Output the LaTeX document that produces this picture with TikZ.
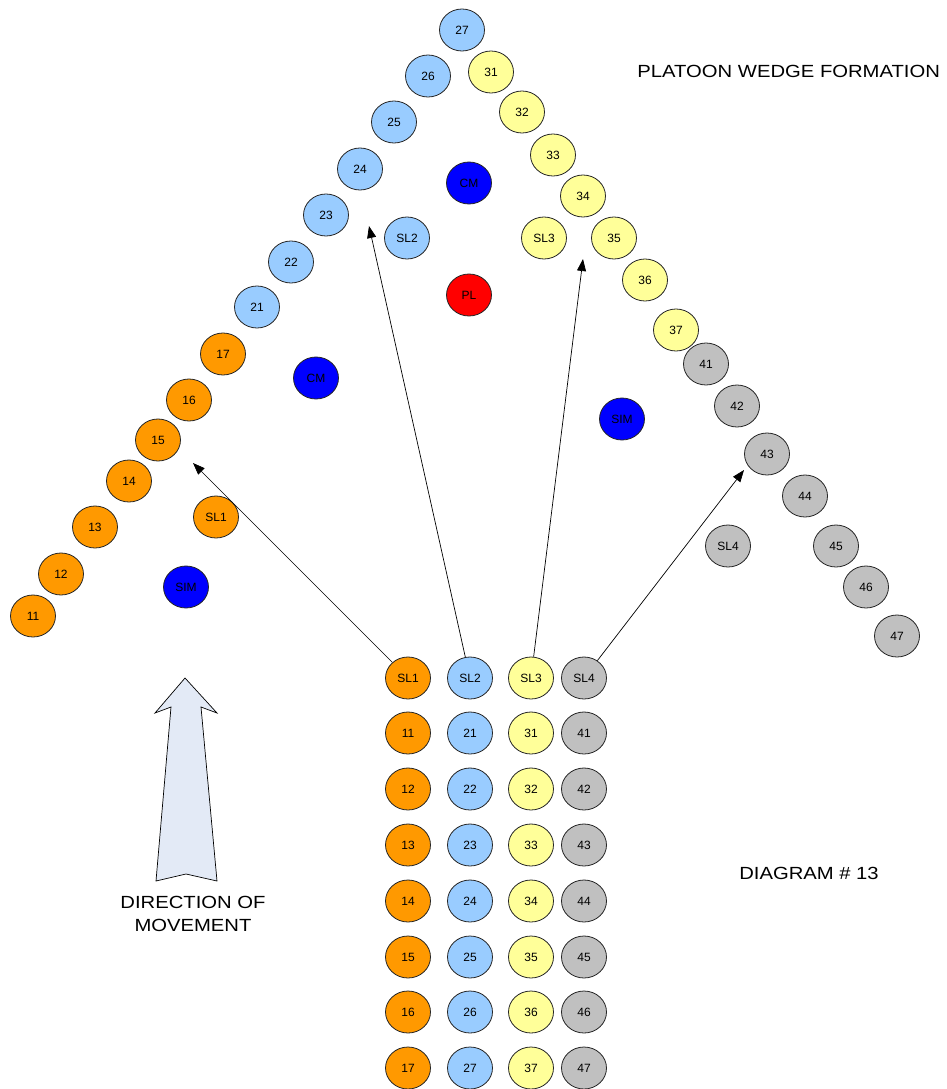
\documentclass[tikz,border=0pt]{standalone}
\usepackage{fontspec}
\setmainfont{Liberation Sans}
\usetikzlibrary{arrows.meta,shapes.geometric}
\definecolor{cOr}{HTML}{FF9900}
\definecolor{cBl}{HTML}{99CCFF}
\definecolor{cYe}{HTML}{FFFF99}
\definecolor{cGr}{HTML}{C0C0C0}
\definecolor{cBu}{HTML}{0000FF}
\definecolor{cRe}{HTML}{FF0000}
\definecolor{cArr}{HTML}{E3EAF6}
\tikzset{
  man/.style={ellipse, draw=black!85, line width=0.8pt, minimum width=45pt, minimum height=42pt, inner sep=0pt, font=\fontsize{12}{14}\selectfont},
  orn/.style={man, fill=cOr},
  blu/.style={man, fill=cBl},
  yel/.style={man, fill=cYe},
  gry/.style={man, fill=cGr},
  dbl/.style={man, fill=cBu},
  red/.style={man, fill=cRe},
  mv/.style={draw=black, line width=0.7pt, -{Triangle[length=12pt,width=9pt]}},
  big/.style={font=\fontsize{17.6}{23}\selectfont, align=center, xscale=1.15, transform shape}
}
\begin{document}
\begin{tikzpicture}[x=1pt,y=-1pt]
\useasboundingbox (0,0) rectangle (946,1089);
% wedge
\node[blu] (w27) at (462,30) {27};
\node[blu] (w26) at (428,76) {26};
\node[blu] (w25) at (394,122) {25};
\node[blu] (w24) at (360,169) {24};
\node[blu] (w23) at (326,215) {23};
\node[blu] (w22) at (291,262) {22};
\node[blu] (w21) at (257,307) {21};
\node[orn] (w17) at (223,354) {17};
\node[orn] (w16) at (189,400) {16};
\node[orn] (w15) at (158,440) {15};
\node[orn] (w14) at (129,481) {14};
\node[orn] (w13) at (95,527) {13};
\node[orn] (w12) at (61,574) {12};
\node[orn] (w11) at (33,616) {11};
\node[yel] (w31) at (491,72) {31};
\node[yel] (w32) at (522,112) {32};
\node[yel] (w33) at (553,155) {33};
\node[yel] (w34) at (583,196) {34};
\node[yel] (w35) at (614,238) {35};
\node[yel] (w36) at (645,280) {36};
\node[yel] (w37) at (676,330) {37};
\node[gry] (w41) at (706,364) {41};
\node[gry] (w42) at (737,406) {42};
\node[gry] (w43) at (767,454) {43};
\node[gry] (w44) at (805,496) {44};
\node[gry] (w45) at (836,546) {45};
\node[gry] (w46) at (866,587) {46};
\node[gry] (w47) at (897,636) {47};
\node[dbl] (cm1) at (469,183) {CM};
\node[blu] (wsl2) at (407,238) {SL2};
\node[yel] (wsl3) at (544,238) {SL3};
\node[red] (pl) at (469,295) {PL};
\node[dbl] (cm2) at (316,378) {CM};
\node[dbl] (sim2) at (622,419) {SIM};
\node[orn] (wsl1) at (216,517) {SL1};
\node[dbl] (sim1) at (186,587) {SIM};
\node[gry] (wsl4) at (728,546) {SL4};
% columns
\node[orn] (csl1) at (408,678) {SL1};
\node[blu] (csl2) at (470,678) {SL2};
\node[yel] (csl3) at (531,678) {SL3};
\node[gry] (csl4) at (584,678) {SL4};
\foreach \i/\y in {1/733,2/789,3/845,4/901,5/957,6/1012,7/1068}{
  \node[orn] (c1\i) at (408,\y) {1\i};
  \node[blu] (c2\i) at (470,\y) {2\i};
  \node[yel] (c3\i) at (531,\y) {3\i};
  \node[gry] (c4\i) at (584,\y) {4\i};
}
% movement arrows
\coordinate (e1) at (193,463);
\coordinate (e2) at (369,226);
\coordinate (e3) at (583,259);
\coordinate (e4) at (744,470);
\draw[mv] (csl1) -- (e1);
\draw[mv] (csl2) -- (e2);
\draw[mv] (csl3) -- (e3);
\draw[mv] (csl4) -- (e4);
% direction arrow
\draw[fill=cArr, line width=0.7pt, line join=miter] (185,678) -- (217,713) -- (201,707) -- (217,881) -- (186,874) -- (156,881) -- (171,707) -- (155,713) -- cycle;
\node[big] (dir) at (193,914) {DIRECTION OF\\MOVEMENT};
\node[big] (diag) at (809,873) {DIAGRAM \# 13};
\node[big, anchor=east] (title) at (944,71) {PLATOON WEDGE FORMATION};
\end{tikzpicture}
\end{document}
